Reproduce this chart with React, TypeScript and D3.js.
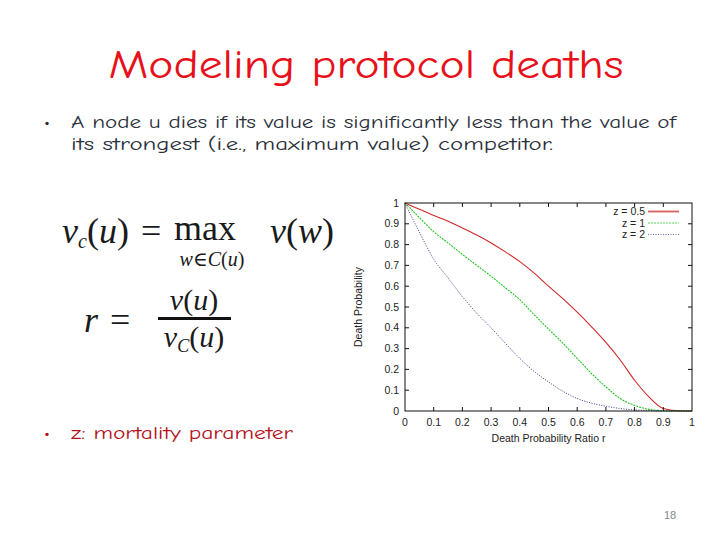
import React from 'react';
import * as d3 from 'd3';

// Death probability vs ratio r
const ratios = [0, 0.05, 0.1, 0.15, 0.2, 0.25, 0.3, 0.35, 0.4, 0.45, 0.5, 0.55, 0.6, 0.65, 0.7, 0.75, 0.8, 0.85, 0.9, 0.95, 1];
const deathZHalf = [1, 0.97, 0.94, 0.912, 0.88, 0.846, 0.808, 0.765, 0.718, 0.663, 0.6, 0.54, 0.475, 0.405, 0.33, 0.245, 0.148, 0.068, 0.012, 0.001, 0];
const deathZOne = [1, 0.93, 0.862, 0.808, 0.753, 0.7, 0.648, 0.592, 0.535, 0.463, 0.394, 0.326, 0.253, 0.18, 0.116, 0.06, 0.027, 0.008, 0.001, 0, 0];
const deathZTwo = [1, 0.86, 0.73, 0.64, 0.55, 0.47, 0.4, 0.325, 0.253, 0.19, 0.14, 0.095, 0.06, 0.038, 0.023, 0.012, 0.005, 0.002, 0, 0, 0];

const series = [
  { label: 'z = 0.5', values: deathZHalf, color: '#d02828', dash: 'none', width: 1.1 },
  { label: 'z = 1', values: deathZOne, color: '#22c422', dash: '2,1', width: 1.1 },
  { label: 'z = 2', values: deathZTwo, color: '#3a3a8c', dash: '1,1.5', width: 1 },
];

const xTicks = [0, 0.1, 0.2, 0.3, 0.4, 0.5, 0.6, 0.7, 0.8, 0.9, 1];
const yTicks = [0, 0.1, 0.2, 0.3, 0.4, 0.5, 0.6, 0.7, 0.8, 0.9, 1];

const comic = '"Comic Sans MS", "Comic Neue", "DejaVu Sans", sans-serif';
const mathFont = '"Liberation Serif", "DejaVu Serif", serif';
const plotFont = '"Liberation Sans", Arial, sans-serif';

const Chart: React.FC = () => {
  const x = d3.scaleLinear().domain([0, 1]).range([405, 692]);
  const y = d3.scaleLinear().domain([0, 1]).range([411, 203]);
  const line = d3.line<number>()
    .x((_, i) => x(ratios[i]))
    .y((d) => y(d))
    .curve(d3.curveMonotoneX);
  const fmt = (v: number) => (v === 0 || v === 1 ? String(v) : v.toFixed(1));

  return (
    <g fontFamily={plotFont} fontSize={10.5} fill="#222">
      {series.map((s) => (
        <path key={s.label} d={line(s.values) || ''} fill="none" stroke={s.color}
          strokeWidth={s.width} strokeDasharray={s.dash} />
      ))}
      <rect x={x(0)} y={y(1)} width={x(1) - x(0)} height={y(0) - y(1)} fill="none" stroke="#111" strokeWidth={1} />
      {yTicks.map((t) => (
        <g key={'y' + t}>
          {t > 0 && t < 1 && (
            <>
              <line x1={x(0)} x2={x(0) + 4} y1={y(t)} y2={y(t)} stroke="#111" />
              <line x1={x(1)} x2={x(1) - 4} y1={y(t)} y2={y(t)} stroke="#111" />
            </>
          )}
          <text x={399} y={y(t) + 3.5} textAnchor="end">{fmt(t)}</text>
        </g>
      ))}
      {xTicks.map((t) => (
        <g key={'x' + t}>
          {t > 0 && t < 1 && (
            <>
              <line x1={x(t)} x2={x(t)} y1={y(0)} y2={y(0) - 4} stroke="#111" />
              <line x1={x(t)} x2={x(t)} y1={y(1)} y2={y(1) + 4} stroke="#111" />
            </>
          )}
          <text x={x(t)} y={426} textAnchor="middle">{fmt(t)}</text>
        </g>
      ))}
      <text x={x(0.5)} y={442} textAnchor="middle">Death Probability Ratio r</text>
      <text transform={`translate(362,${(y(0) + y(1)) / 2}) rotate(-90)`} textAnchor="middle">Death Probability</text>
      {series.map((s, i) => (
        <g key={'lg' + s.label}>
          <text x={645} y={215 + i * 11.5} textAnchor="end">{s.label}</text>
          <line x1={648} x2={679} y1={211.5 + i * 11.5} y2={211.5 + i * 11.5} stroke={s.color}
            strokeWidth={i === 0 ? 1.8 : 1.2} strokeDasharray={s.dash} opacity={0.75} />
        </g>
      ))}
    </g>
  );
};

const Formulas: React.FC = () => (
  <g fontFamily={mathFont} fill="#1a1a1a">
    <text y={243} fontSize={36}>
      <tspan x={62} fontStyle="italic">v</tspan>
      <tspan fontStyle="italic" fontSize={20} dy={5}>c</tspan>
      <tspan dy={-5}>(</tspan>
      <tspan fontStyle="italic">u</tspan>
      <tspan>)</tspan>
      <tspan dx={12}>=</tspan>
    </text>
    <text x={205} y={240} fontSize={36} textAnchor="middle">max</text>
    <text x={212} y={266} fontSize={20} textAnchor="middle">
      <tspan fontStyle="italic">w</tspan>∈<tspan fontStyle="italic">C</tspan>(<tspan fontStyle="italic">u</tspan>)
    </text>
    <text x={270} y={243} fontSize={36}>
      <tspan fontStyle="italic">v</tspan>(<tspan fontStyle="italic">w</tspan>)
    </text>
    <text y={332} fontSize={36}>
      <tspan x={84} fontStyle="italic">r</tspan>
      <tspan dx={12}>=</tspan>
    </text>
    <text x={194} y={310} fontSize={30} textAnchor="middle">
      <tspan fontStyle="italic">v</tspan>(<tspan fontStyle="italic">u</tspan>)
    </text>
    <rect x={158} y={317} width={73} height={3} fill="#111" />
    <text x={194} y={347} fontSize={30} textAnchor="middle">
      <tspan fontStyle="italic">v</tspan>
      <tspan fontStyle="italic" fontSize={18} dy={5}>C</tspan>
      <tspan dy={-5}>(</tspan>
      <tspan fontStyle="italic">u</tspan>)
    </text>
  </g>
);

export default function App() {
  return (
    <div style={{ position: 'fixed', left: 0, top: 0, width: 720, height: 540, background: '#fff' }}>
      <svg width={720} height={540} viewBox="0 0 720 540">
        <rect width={720} height={540} fill="#fff" />
        <text x={366} y={78} textAnchor="middle" fontFamily={comic} fontSize={40} fill="#e8101a"
          textLength={515} lengthAdjust="spacingAndGlyphs">Modeling protocol deaths</text>
        <g fontFamily={comic} fontSize={19} fill="#2a2f3a">
          <text x={44} y={128}>•</text>
          <text x={71} y={128} textLength={605} lengthAdjust="spacingAndGlyphs">
            A node u dies if its value is significantly less than the value of
          </text>
          <text x={71} y={150} textLength={482} lengthAdjust="spacingAndGlyphs">
            its strongest (i.e., maximum value) competitor.
          </text>
        </g>
        <g fontFamily={comic} fontSize={19} fill="#b3121c">
          <text x={44} y={439}>•</text>
          <text x={71} y={439} textLength={222} lengthAdjust="spacingAndGlyphs">z: mortality parameter</text>
        </g>
        <Formulas />
        <Chart />
        <text x={670} y={519} textAnchor="middle" fontFamily={plotFont} fontSize={11} fill="#888">18</text>
      </svg>
    </div>
  );
}
